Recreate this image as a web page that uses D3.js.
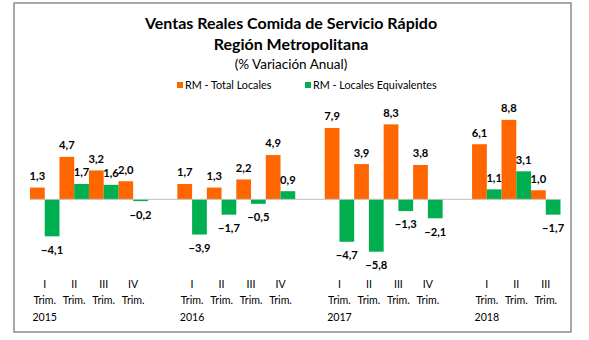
<!DOCTYPE html>
<html>
<head>
<meta charset="utf-8">
<script src="https://d3js.org/d3.v7.min.js"></script>
<style>
  body { margin: 0; background: #fff; }
  text { font-family: Lato, "Open Sans", sans-serif; fill: #000; }
</style>
</head>
<body>
<svg id="chart" width="589" height="340"></svg>
<script>
// categories (empty entries are the spacer slots Excel leaves between years)
const quarterLabels = ["I", "II", "III", "IV", "", "I", "II", "III", "IV", "", "I", "II", "III", "IV", "", "I", "II", "III"];
const yearLabels = ["2015", "", "", "", "", "2016", "", "", "", "", "2017", "", "", "", "", "2018", "", ""];
// series (% variación anual)
const totalLocales = [1.3, 4.7, 3.2, 2.0, null, 1.7, 1.3, 2.2, 4.9, null, 7.9, 3.9, 8.3, 3.8, null, 6.1, 8.8, 1.0];
const localesEquiv = [-4.1, 1.7, 1.6, -0.2, null, -3.9, -1.7, -0.5, 0.9, null, -4.7, -5.8, -1.3, -2.1, null, 1.1, 3.1, -1.7];
const seriesNames = ["RM - Total Locales", "RM - Locales Equivalentes"];
const seriesColors = ["#ff6600", "#00b050"];

const svg = d3.select("#chart");

// chart frame
svg.append("rect")
    .attr("x", 14).attr("y", 3)
    .attr("width", 557).attr("height", 329)
    .attr("fill", "none")
    .attr("stroke", "#8c8c8c")
    .attr("stroke-width", 1.5);

// titles
const titleX = 291;
svg.append("text").attr("x", titleX).attr("y", 29)
    .attr("text-anchor", "middle").attr("font-weight", "bold").attr("font-size", 16)
    .text("Ventas Reales Comida de Servicio Rápido");
svg.append("text").attr("x", titleX).attr("y", 50)
    .attr("text-anchor", "middle").attr("font-weight", "bold").attr("font-size", 16)
    .text("Región Metropolitana");
svg.append("text").attr("x", titleX).attr("y", 69)
    .attr("text-anchor", "middle").attr("font-size", 13.5)
    .text("(% Variación Anual)");

// legend
const legendX = [177, 305];
const legend = svg.selectAll(".legend").data(seriesNames).join("g")
    .attr("class", "legend")
    .attr("transform", (d, i) => "translate(" + legendX[i] + ",82)");
legend.append("rect").attr("width", 6).attr("height", 6)
    .attr("fill", (d, i) => seriesColors[i]);
legend.append("text").attr("x", 8).attr("y", 7)
    .attr("font-size", 10.8).attr("fill", "#404040")
    .text(d => d);

// scales
const idx = d3.range(quarterLabels.length);
const x = d3.scaleBand().domain(idx).range([30, 560.5]).padding(0);
const xs = d3.scaleBand().domain([0, 1]).range([0, x.bandwidth()]);
const y = d3.scaleLinear().domain([-6, 10]).range([253.5, 109]);

const fmt = v => d3.format(".1f")(v).replace(".", ",");

const series = [totalLocales, localesEquiv];
series.forEach((vals, s) => {
    const pts = idx.filter(i => vals[i] !== null).map(i => ({ i: i, v: vals[i] }));
    const g = svg.append("g");
    g.selectAll("rect").data(pts).join("rect")
        .attr("x", d => x(d.i) + xs(s))
        .attr("width", xs.bandwidth())
        .attr("y", d => y(Math.max(0, d.v)))
        .attr("height", d => Math.abs(y(d.v) - y(0)))
        .attr("fill", seriesColors[s]);
    g.selectAll("text").data(pts).join("text")
        .attr("x", d => x(d.i) + xs(s) + xs.bandwidth() / 2)
        .attr("y", d => d.v >= 0 ? y(d.v) - 11.5 : y(d.v) + 13.5)
        .attr("dy", "0.35em")
        .attr("text-anchor", "middle")
        .attr("font-weight", "bold")
        .attr("font-size", 11.2)
        .text(d => fmt(d.v));
});

// zero line
svg.append("line")
    .attr("x1", x.range()[0]).attr("x2", x.range()[1])
    .attr("y1", y(0)).attr("y2", y(0))
    .attr("stroke", "#bfbfbf").attr("stroke-width", 1);

// category labels
const cats = svg.append("g");
idx.filter(i => quarterLabels[i] !== "").forEach(i => {
    const cx = x(i) + x.bandwidth() / 2;
    const lines = [quarterLabels[i], "Trim.", yearLabels[i]];
    lines.forEach((t, k) => {
        if (t === "") return;
        cats.append("text")
            .attr("x", cx).attr("y", 284 + k * 16.5)
            .attr("dy", "0.35em")
            .attr("text-anchor", "middle")
            .attr("font-size", 10.6)
            .attr("fill", "#404040")
            .text(t);
    });
});
</script>
</body>
</html>
